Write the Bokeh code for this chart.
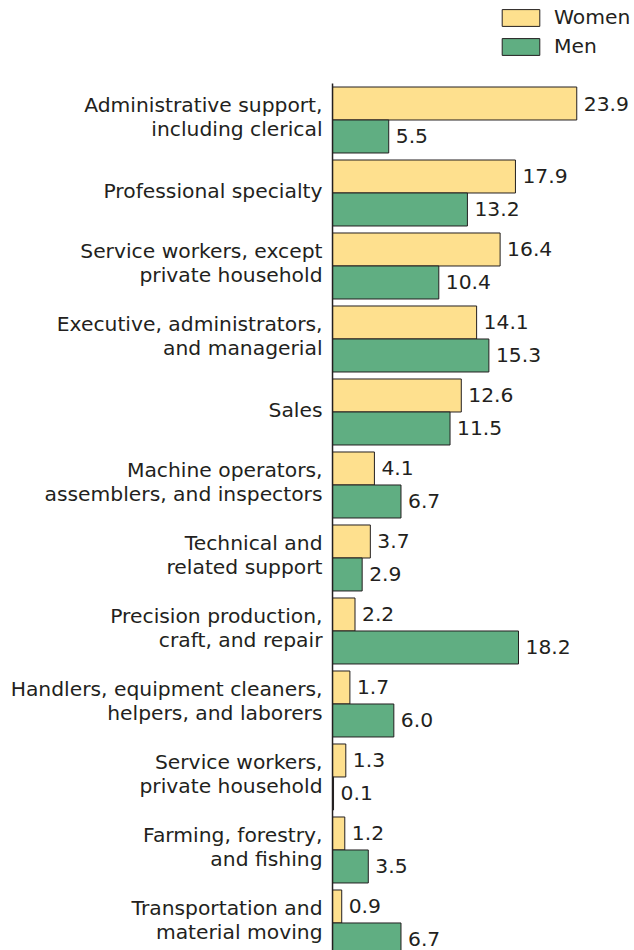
from bokeh.plotting import figure
from bokeh.models import Range1d, ColumnDataSource, Legend, LegendItem
from bokeh.core.properties import value
from bokeh.embed import file_html
from bokeh.resources import INLINE

label_line1 = ["Administrative support,", "Professional specialty", "Service workers, except",
               "Executive, administrators,", "Sales", "Machine operators,",
               "Technical and", "Precision production,", "Handlers, equipment cleaners,",
               "Service workers,", "Farming, forestry,", "Transportation and"]
label_line2 = ["including clerical", "", "private household",
               "and managerial", "", "assemblers, and inspectors",
               "related support", "craft, and repair", "helpers, and laborers",
               "private household", "and fishing", "material moving"]
women = [23.9, 17.9, 16.4, 14.1, 12.6, 4.1, 3.7, 2.2, 1.7, 1.3, 1.2, 0.9]
men = [5.5, 13.2, 10.4, 15.3, 11.5, 6.7, 2.9, 18.2, 6.0, 0.1, 3.5, 6.7]

WOMEN_COLOR = "#FEE08E"
MEN_COLOR = "#60AE82"
EDGE = "#231F20"
TEXT = "#231F20"
FONT = "DejaVu Sans"
FS = "20.3px"

n = len(women)
idx = list(range(n))
bar_h = 0.452
off = 0.226
line1_off = -0.205
line2_off = 0.118
single_off = -0.03
yw = [i - off for i in idx]
ym = [i + off for i in idx]

W, H = 634, 950
p = figure(width=W, height=H, output_backend="svg", toolbar_location=None,
           x_range=Range1d(-32.49, 29.55), y_range=Range1d(11.377, -1.637),
           min_border=0, min_border_left=0, min_border_right=0,
           min_border_top=0, min_border_bottom=0)
p.axis.visible = False
p.grid.visible = False
p.outline_line_color = None

src = ColumnDataSource(dict(yw=yw, ym=ym, women=women, men=men,
                            wl=[f"{v:.1f}" for v in women], ml=[f"{v:.1f}" for v in men]))

rw = p.hbar(y="yw", left=0, right="women", height=bar_h, source=src,
            fill_color=WOMEN_COLOR, line_color=EDGE, line_width=1)
rm = p.hbar(y="ym", left=0, right="men", height=bar_h, source=src,
            fill_color=MEN_COLOR, line_color=EDGE, line_width=1)

# axis line
p.segment(x0=[0], y0=[-0.5], x1=[0], y1=[11.377], line_color=EDGE, line_width=1.5)

# value labels
p.text(x="women", y="yw", text="wl", source=src, x_offset=7, text_baseline="middle",
       text_align="left", text_font=value(FONT), text_font_size=FS, text_color=TEXT)
p.text(x="men", y="ym", text="ml", source=src, x_offset=7, text_baseline="middle",
       text_align="left", text_font=value(FONT), text_font_size=FS, text_color=TEXT)

# category labels
l1y, l1t, l2y, l2t = [], [], [], []
for i in idx:
    if label_line2[i]:
        l1y.append(i + line1_off); l1t.append(label_line1[i])
        l2y.append(i + line2_off); l2t.append(label_line2[i])
    else:
        l1y.append(i + single_off); l1t.append(label_line1[i])
p.text(x=[0] * len(l1y), y=l1y, text=l1t, x_offset=-10, text_baseline="middle",
       text_align="right", text_font=value(FONT), text_font_size=FS, text_color=TEXT)
p.text(x=[0] * len(l2y), y=l2y, text=l2t, x_offset=-10, text_baseline="middle",
       text_align="right", text_font=value(FONT), text_font_size=FS, text_color=TEXT)

legend = Legend(items=[LegendItem(label="Women", renderers=[rw]),
                       LegendItem(label="Men", renderers=[rm])],
                location=(497, H - 12 - 46), padding=0, margin=0, spacing=5,
                glyph_width=47, glyph_height=21, label_height=21, label_standoff=10,
                border_line_alpha=0, background_fill_alpha=0,
                label_text_font=FONT, label_text_font_size=FS, label_text_color=TEXT)
p.add_layout(legend, "center")

open("out.html", "w").write(file_html(p, INLINE))
